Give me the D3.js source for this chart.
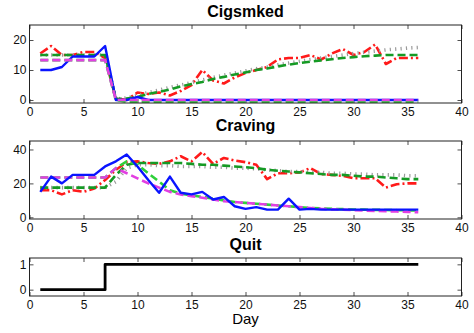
<!DOCTYPE html>
<html>
<head>
<meta charset="utf-8">
<script src="https://cdn.jsdelivr.net/npm/d3@7/dist/d3.min.js"></script>
<style>
  html, body { margin: 0; padding: 0; background: #fff; }
  svg { display: block; font-family: "Liberation Sans", Arial, Helvetica, sans-serif; }
</style>
</head>
<body>
<svg id="chart" width="474" height="333"></svg>
<script>
// Study days
const days = [1,2,3,4,5,6,7,8,9,10,11,12,13,14,15,16,17,18,19,20,21,22,23,24,25,26,27,28,29,30,31,32,33,34,35,36];

// Cigarettes smoked per day
const cigObserved     = [10,10,11,14.5,14.5,14.5,18,0,0,1,0,0,0,0,0,0,0,0,0,0,0,0,0,0,0,0,0,0,0,0,0,0,0,0,0,0];
const cigQuitModelA   = [13.3,13.3,13.3,13.3,13.3,13.3,13.3,0,0,0,0,0,0,0,0,0,0,0,0,0,0,0,0,0,0,0,0,0,0,0,0,0,0,0,0,0];
const cigQuitModelB   = [13.3,13.3,13.3,13.3,13.3,13.3,13.3,0,-0.6,-0.6,-0.6,-0.6,-0.6,-0.6,-0.6,-0.6,-0.6,-0.6,-0.6,-0.6,-0.6,-0.6,-0.6,-0.6,-0.6,-0.6,-0.6,-0.6,-0.6,-0.6,-0.6,-0.6,-0.6,-0.6,-0.6,-0.6];
const cigNoQuitObs    = [15.5,18,15,15,16,16,14,0.5,0,2.5,2,2.5,1.5,3,5,10,6.5,5.5,7.5,9,10,11,13.5,14,14,15,13.5,15.5,17,15,16,18.5,12,14,14,14];
const cigNoQuitModelA = [15,15,15,15,15,15,15,0.3,0.5,1,2,2.7,3.5,4.5,5.3,6,7,7.7,8.5,9.2,10,10.5,11.2,11.8,12.3,12.8,13.2,13.6,14,14.3,14.6,14.8,15,15,15,15];
const cigNoQuitModelB = [15,15,15,15,15,15,15,0.3,0.7,1.5,2.5,3.3,4.2,5,5.8,6.7,7.5,8.3,9,9.7,10.4,11,11.7,12.3,12.9,13.5,14,14.5,15,15.5,15.9,16.3,16.7,17,17.3,17.5];

// Craving score per day
const cravObserved     = [15,24,20,25,25,25,30,33,37,30,22,14.5,24,14.5,13.5,15,10.5,12,6.5,5,6,4.5,4.5,11,4.5,5,4.5,4.5,4.5,4.5,4.5,4.5,4.5,4.5,4.5,4.5];
const cravQuitModelA   = [23.5,23.5,23.5,23.5,23.5,23.5,23.5,29,26,23,20,17.5,15,13.5,12.5,11.5,10.5,9.5,9,8.5,8,7.5,7,6.5,6,5.5,5,4.7,4.5,4.2,4,3.8,3.6,3.4,3.2,3];
const cravQuitModelB   = [23.5,23.5,23.5,23.5,23.5,23.5,23.5,29,33,31,26,21,16,14,13,12,11,10,9,8.5,8,7.5,7,6.5,6,5.5,5.3,5,4.8,4.6,4.5,4.4,4.3,4.2,4.1,4];
const cravNoQuitObs    = [16,16,13.5,16,15,17,22,28,32.5,33,32,31.5,33,36,33,38.5,31.5,35,33.5,32.5,31,22.5,26,26,26.5,29,25.5,25,24.5,23,23,23,17.5,19.5,20,20];
const cravNoQuitModelA = [17.5,17.5,17.5,17.5,17.5,17.5,17.5,25,31,32,32,32,32,32,31.5,31,31,30.5,30,29.5,29,28,27.5,27,26.5,26,25.5,25,25,24.5,24,24,23.5,23,22.5,22.5];
const cravNoQuitModelB = [17.5,17.5,17.5,17.5,17.5,17.5,17.5,21,29,31,31,30.5,30.5,30,30,30,29.5,29.5,29,29,28.5,28,27.5,27,27,26.5,26.5,26,26,25.5,25.5,25,25,25,24.5,24.5];

// Quit status (0 = smoking, 1 = quit)
const quitStatus = [0,0,0,0,0,0,1,1,1,1,1,1,1,1,1,1,1,1,1,1,1,1,1,1,1,1,1,1,1,1,1,1,1,1,1,1];

// Axis ticks and titles
const xTicks = [0,5,10,15,20,25,30,35,40];
const cigTicks = [0,10,20];
const cravTicks = [0,20,40];
const quitTicks = [0,1];
const panelTitles = ["Cigsmked", "Craving", "Quit"];
const xLabel = "Day";

// Line styles
const styles = {
  noQuitObs:    { color: "#ff1a1a", dash: "9,3,2,3", width: 2.6 },
  noQuitModelB: { color: "#9a9a9a", dash: "1.2,4.2", width: 3.6 },
  noQuitModelA: { color: "#159a24", dash: "8,4", width: 2.6 },
  quitModelA:   { color: "#e23fe2", dash: "8,4", width: 2.6 },
  quitModelB:   { color: "#2fd03a", dash: "8,4", width: 2.6 },
  observed:     { color: "#0a14ff", dash: null, width: 2.4 },
  quit:         { color: "#000000", dash: null, width: 2.8 }
};

const svg = d3.select("#chart");
const x = d3.scaleLinear().domain([0, 40]).range([29.5, 461.5]);
const intFmt = d3.format("d");

function drawPanel(idx, cfg) {
  const [y0, y1] = cfg.yRange;
  const y = d3.scaleLinear().domain(cfg.yDomain).range([y0, y1]);
  const g = svg.append("g");
  const clipId = "clip" + idx;
  svg.append("clipPath").attr("id", clipId)
    .append("rect").attr("x", x(0)).attr("y", y1).attr("width", x(40) - x(0)).attr("height", y0 - y1);

  // title
  g.append("text")
    .attr("x", (x(0) + x(40)) / 2).attr("y", cfg.titleY)
    .attr("text-anchor", "middle").attr("font-size", 16).attr("font-weight", "bold")
    .text(cfg.title);

  const tickFont = 12;
  // bottom axis (ticks point inward)
  const xb = g.append("g").attr("transform", `translate(0,${y0})`)
    .call(d3.axisBottom(x).tickValues(xTicks).tickFormat(intFmt).tickSizeInner(-4).tickSizeOuter(0).tickPadding(4));
  // top axis, ticks only
  const xt = g.append("g").attr("transform", `translate(0,${y1})`)
    .call(d3.axisTop(x).tickValues(xTicks).tickSizeInner(-4).tickSizeOuter(0).tickFormat(""));
  // left axis
  const yl = g.append("g").attr("transform", `translate(${x(0)},0)`)
    .call(d3.axisLeft(y).tickValues(cfg.yTicks).tickFormat(intFmt).tickSizeInner(-4).tickSizeOuter(0).tickPadding(3));
  // right axis, ticks only
  const yr = g.append("g").attr("transform", `translate(${x(40)},0)`)
    .call(d3.axisRight(y).tickValues(cfg.yTicks).tickSizeInner(-4).tickSizeOuter(0).tickFormat(""));
  [xb, xt, yl, yr].forEach(a => {
    a.select(".domain").remove();
    a.selectAll("line").attr("stroke", "#222").attr("stroke-width", 0.8);
    a.selectAll("text").attr("font-size", tickFont).attr("fill", "#111")
      .attr("font-family", "'Liberation Sans', Arial, sans-serif");
  });

  // series
  const lineGen = d3.line().x((d, i) => x(days[i])).y(d => y(d)).curve(cfg.curve || d3.curveLinear);
  const plot = g.append("g").attr("clip-path", `url(#${clipId})`);
  cfg.series.forEach(s => {
    const st = styles[s.style];
    plot.append("path")
      .datum(s.values)
      .attr("fill", "none")
      .attr("stroke", st.color)
      .attr("stroke-width", st.width)
      .attr("stroke-dasharray", st.dash)
      .attr("stroke-linejoin", "round")
      .attr("d", lineGen);
  });

  // frame
  g.append("rect")
    .attr("x", x(0)).attr("y", y1).attr("width", x(40) - x(0)).attr("height", y0 - y1)
    .attr("fill", "none").attr("stroke", "#222").attr("stroke-width", 1);
  return g;
}

drawPanel(0, {
  title: panelTitles[0], titleY: 16.5,
  yDomain: [-1, 25], yRange: [103, 25], yTicks: cigTicks,
  series: [
    { values: cigNoQuitObs, style: "noQuitObs" },
    { values: cigNoQuitModelB, style: "noQuitModelB" },
    { values: cigNoQuitModelA, style: "noQuitModelA" },
    { values: cigObserved, style: "observed" },
    { values: cigQuitModelB, style: "quitModelB" },
    { values: cigQuitModelA, style: "quitModelA" }
  ]
});

drawPanel(1, {
  title: panelTitles[1], titleY: 131,
  yDomain: [-1, 45], yRange: [219, 141], yTicks: cravTicks,
  series: [
    { values: cravNoQuitObs, style: "noQuitObs" },
    { values: cravNoQuitModelB, style: "noQuitModelB" },
    { values: cravNoQuitModelA, style: "noQuitModelA" },
    { values: cravQuitModelB, style: "quitModelB" },
    { values: cravQuitModelA, style: "quitModelA" },
    { values: cravObserved, style: "observed" }
  ]
});

drawPanel(2, {
  title: panelTitles[2], titleY: 250,
  yDomain: [-0.25, 1.25], yRange: [296, 258], yTicks: quitTicks,
  curve: d3.curveStepAfter,
  series: [
    { values: quitStatus, style: "quit" }
  ]
});

svg.append("text")
  .attr("x", (x(0) + x(40)) / 2).attr("y", 324)
  .attr("text-anchor", "middle").attr("font-size", 15)
  .text(xLabel);
</script>
</body>
</html>
